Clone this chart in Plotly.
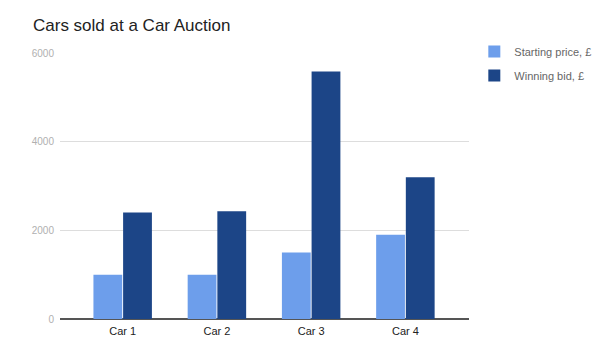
import plotly.graph_objects as go

categories = ["Car 1", "Car 2", "Car 3", "Car 4"]
starting_price = [1000, 1000, 1500, 1900]
winning_bid = [2400, 2430, 5580, 3200]
y_ticks = [0, 2000, 4000, 6000]

fig = go.Figure()
fig.add_trace(go.Bar(x=categories, y=starting_price, name="Starting price, £",
                     legendgroup="a",
                     marker=dict(color="#6d9eeb", line=dict(width=0))))
fig.add_trace(go.Bar(x=categories, y=winning_bid, name="Winning bid, £",
                     legendgroup="b",
                     marker=dict(color="#1c4587", line=dict(width=0))))

fig.update_layout(
    width=609, height=349,
    margin=dict(l=60, r=140, t=53, b=30, autoexpand=False),
    paper_bgcolor="white", plot_bgcolor="white",
    font=dict(family="Liberation Sans, Arial, sans-serif"),
    title=dict(text="Cars sold at a Car Auction", x=33/609, xanchor="left",
               y=1 - 25/349, yanchor="middle",
               font=dict(size=17, color="#222222")),
    barmode="group", bargap=0.37, bargroupgap=0.03,
    showlegend=True,
    legend=dict(x=1.013, y=1.06, xanchor="left", yanchor="top",
                font=dict(size=11, color="#666666"), tracegroupgap=5,
                itemwidth=30),
    xaxis=dict(range=[-0.665, 3.675], showgrid=False, showline=False,
               ticks="", tickfont=dict(size=11, color="#222222"),
               ticklabelstandoff=4),
    yaxis=dict(range=[0, 6000], tickvals=y_ticks, showgrid=True,
               gridcolor="#dddddd", gridwidth=1, zeroline=True,
               zerolinecolor="#555555", zerolinewidth=1.5,
               tickfont=dict(size=10, color="#b0b0b0"), ticks="",
               ticklabelstandoff=5),
)

fig.write_html("out.html")
